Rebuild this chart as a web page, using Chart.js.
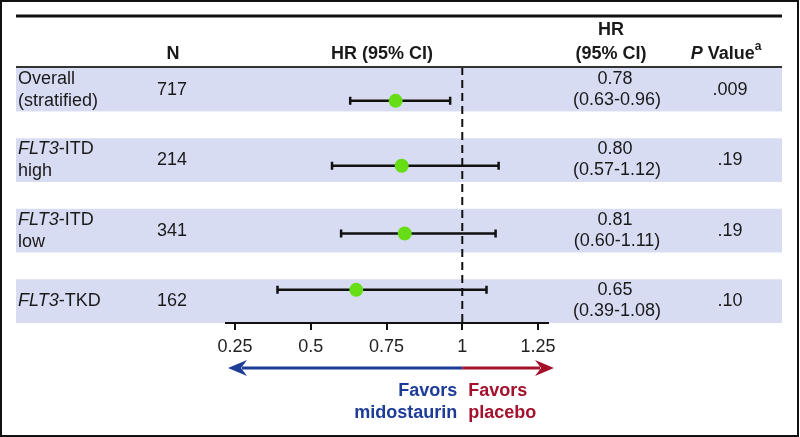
<!DOCTYPE html>
<html>
<head>
<meta charset="utf-8">
<script src="https://cdn.jsdelivr.net/npm/chart.js@4"></script>
<style>
  html, body { margin: 0; padding: 0; background: #fff; }
  canvas { display: block; }
</style>
</head>
<body>
<canvas id="forest" width="800" height="437"></canvas>
<script>
// subgroup data
const groupLabels = ['Overall\n(stratified)', '*FLT3*-ITD\nhigh', '*FLT3*-ITD\nlow', '*FLT3*-TKD'];
const nPatients = [717, 214, 341, 162];
const hr = [0.78, 0.80, 0.81, 0.65];
const ciLow = [0.63, 0.57, 0.60, 0.39];
const ciHigh = [0.96, 1.12, 1.11, 1.08];
const pValues = ['.009', '.19', '.19', '.10'];
const pointRow = [0.16, 1.08, 2.04, 2.84];
const xTicks = [0.25, 0.5, 0.75, 1, 1.25];

const FONT = '"Liberation Sans", Arial, Helvetica, sans-serif';
const TEXT = '#1a1a1a';
const BAND = '#d7dcf3';
const GREEN = '#66dd14';
const BLUE = '#1d3c98';
const RED = '#a3112b';

Chart.defaults.font.family = FONT;

// draw a line of text made of segments (italic / bold / superscript)
function drawRich(ctx, segs, x, y, align) {
    const fontOf = s => (s.italic ? 'italic ' : '') + (s.bold ? 'bold ' : '') + (s.size || 18) + 'px ' + FONT;
    let total = 0;
    segs.forEach(s => { ctx.font = fontOf(s); total += ctx.measureText(s.text).width; });
    let cx = align === 'center' ? x - total / 2 : align === 'right' ? x - total : x;
    ctx.textAlign = 'left';
    ctx.textBaseline = 'middle';
    segs.forEach(s => {
        ctx.font = fontOf(s);
        ctx.fillText(s.text, cx, y + (s.dy || 0));
        cx += ctx.measureText(s.text).width;
    });
}

// "*FLT3*-ITD" -> italic FLT3 + normal -ITD
function parseLabel(line) {
    return line.split('*').map((t, k) => ({ text: t, italic: k % 2 === 1 })).filter(s => s.text);
}

function arrowHead(ctx, tipX, y, dir, color) {
    ctx.fillStyle = color;
    ctx.beginPath();
    ctx.moveTo(tipX, y);
    ctx.lineTo(tipX + dir * 19, y - 8);
    ctx.lineTo(tipX + dir * 13, y);
    ctx.lineTo(tipX + dir * 19, y + 8);
    ctx.closePath();
    ctx.fill();
}

const tablePlugin = {
    id: 'forestTable',
    beforeDraw(chart) {
        const ctx = chart.ctx;
        const y = chart.scales.y;
        ctx.save();
        ctx.fillStyle = '#fff';
        ctx.fillRect(0, 0, chart.width, chart.height);
        ctx.fillStyle = BAND;
        groupLabels.forEach((_, i) => {
            const top = y.getPixelForValue(i - 0.31);
            const bottom = y.getPixelForValue(i + 0.31);
            ctx.fillRect(16, top, 766, bottom - top);
        });
        ctx.restore();
    },
    beforeDatasetsDraw(chart) {
        const ctx = chart.ctx;
        const x = chart.scales.x, y = chart.scales.y;
        const area = chart.chartArea;
        ctx.save();
        // line of no effect
        ctx.strokeStyle = '#111';
        ctx.lineWidth = 2;
        ctx.setLineDash([8, 5]);
        ctx.beginPath();
        ctx.moveTo(x.getPixelForValue(1), area.top);
        ctx.lineTo(x.getPixelForValue(1), area.bottom);
        ctx.stroke();
        ctx.setLineDash([]);
        // confidence intervals
        ctx.lineWidth = 2.5;
        hr.forEach((_, i) => {
            const py = y.getPixelForValue(pointRow[i]);
            const x0 = x.getPixelForValue(ciLow[i]);
            const x1 = x.getPixelForValue(ciHigh[i]);
            ctx.beginPath();
            ctx.moveTo(x0, py); ctx.lineTo(x1, py);
            ctx.moveTo(x0, py - 4); ctx.lineTo(x0, py + 4);
            ctx.moveTo(x1, py - 4); ctx.lineTo(x1, py + 4);
            ctx.stroke();
        });
        ctx.restore();
    },
    afterDraw(chart) {
        const ctx = chart.ctx;
        const x = chart.scales.x, y = chart.scales.y;
        const area = chart.chartArea;
        ctx.save();

        // rules
        ctx.strokeStyle = '#111';
        ctx.lineWidth = 3;
        ctx.beginPath(); ctx.moveTo(16, 16); ctx.lineTo(782, 16); ctx.stroke();
        ctx.lineWidth = 2;
        ctx.strokeStyle = '#333';
        ctx.beginPath(); ctx.moveTo(16, 67); ctx.lineTo(782, 67); ctx.stroke();

        // header
        ctx.fillStyle = TEXT;
        drawRich(ctx, [{ text: 'N', bold: true }], 173, 54, 'center');
        drawRich(ctx, [{ text: 'HR (95% CI)', bold: true }], 382, 54, 'center');
        drawRich(ctx, [{ text: 'HR', bold: true }], 611, 30, 'center');
        drawRich(ctx, [{ text: '(95% CI)', bold: true }], 611, 54, 'center');
        drawRich(ctx, [
            { text: 'P', bold: true, italic: true },
            { text: ' Value', bold: true },
            { text: 'a', bold: true, size: 12, dy: -7 }
        ], 726, 54, 'center');

        // rows
        groupLabels.forEach((label, i) => {
            const cy = y.getPixelForValue(i);
            const lines = label.split('\n');
            lines.forEach((ln, k) => {
                const ly = cy + (k - (lines.length - 1) / 2) * 22;
                drawRich(ctx, parseLabel(ln), 18, ly, 'left');
            });
            drawRich(ctx, [{ text: String(nPatients[i]) }], 172, cy, 'center');
            drawRich(ctx, [{ text: hr[i].toFixed(2) }], 615, cy - 11, 'center');
            drawRich(ctx, [{ text: '(' + ciLow[i].toFixed(2) + '-' + ciHigh[i].toFixed(2) + ')' }], 617, cy + 10, 'center');
            drawRich(ctx, [{ text: pValues[i] }], 730, cy, 'center');
        });

        // favors arrows
        const mid = x.getPixelForValue(1);
        const ay = 368;
        const leftTip = area.left + 2;
        const rightTip = area.right + 6;
        ctx.lineWidth = 3;
        ctx.strokeStyle = BLUE;
        ctx.beginPath(); ctx.moveTo(leftTip + 14, ay); ctx.lineTo(mid, ay); ctx.stroke();
        arrowHead(ctx, leftTip, ay, 1, BLUE);
        ctx.strokeStyle = RED;
        ctx.beginPath(); ctx.moveTo(mid, ay); ctx.lineTo(rightTip - 14, ay); ctx.stroke();
        arrowHead(ctx, rightTip, ay, -1, RED);

        ctx.fillStyle = BLUE;
        drawRich(ctx, [{ text: 'Favors', bold: true }], mid - 5, 391, 'right');
        drawRich(ctx, [{ text: 'midostaurin', bold: true }], mid - 5, 413, 'right');
        ctx.fillStyle = RED;
        drawRich(ctx, [{ text: 'Favors', bold: true }], mid + 6, 391, 'left');
        drawRich(ctx, [{ text: 'placebo', bold: true }], mid + 6, 413, 'left');

        // frame
        ctx.strokeStyle = '#111';
        ctx.lineWidth = 2;
        ctx.strokeRect(1, 1, 797, 435);
        ctx.restore();
    }
};

new Chart(document.getElementById('forest'), {
    type: 'scatter',
    data: {
        datasets: [{
            label: 'HR',
            data: hr.map((v, i) => ({ x: v, y: pointRow[i] })),
            backgroundColor: GREEN,
            borderWidth: 0,
            pointRadius: 7,
            pointHoverRadius: 7
        }]
    },
    options: {
        responsive: false,
        animation: false,
        devicePixelRatio: 1,
        layout: { padding: { left: 226, right: 252, top: 67, bottom: 0 } },
        plugins: {
            legend: { display: false },
            tooltip: { enabled: false }
        },
        scales: {
            x: {
                type: 'linear',
                min: 0.22,
                max: 1.283,
                afterBuildTicks: s => { s.ticks = xTicks.map(v => ({ value: v })); },
                afterFit: s => { s.height = 114; },
                grid: { drawOnChartArea: false, drawTicks: true, tickLength: 7, color: '#111', lineWidth: 2 },
                border: { display: true, color: '#111', width: 2 },
                ticks: { color: '#222', padding: 6, font: { size: 18 }, callback: v => String(v) }
            },
            y: {
                type: 'linear',
                display: false,
                reverse: true,
                min: -0.32,
                max: 3.31
            }
        }
    },
    plugins: [tablePlugin]
});
</script>
</body>
</html>
